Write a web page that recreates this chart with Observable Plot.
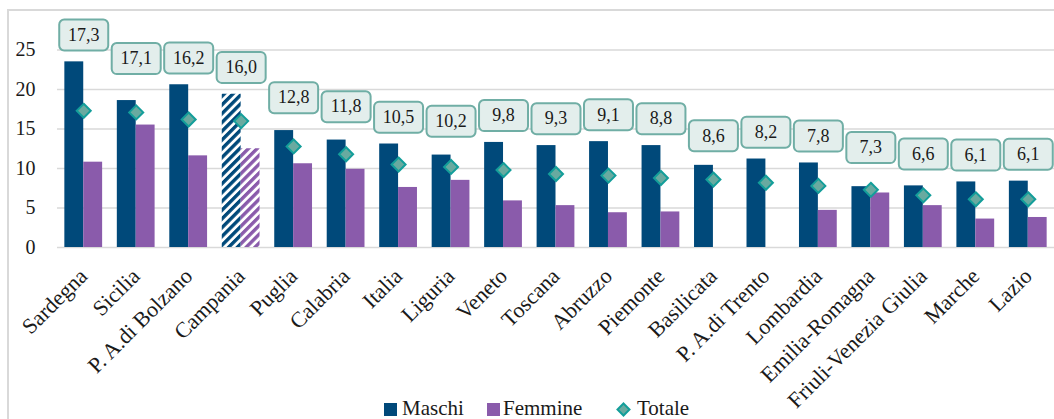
<!DOCTYPE html>
<html>
<head>
<meta charset="utf-8">
<script src="https://cdn.jsdelivr.net/npm/d3@7"></script>
<script src="https://cdn.jsdelivr.net/npm/@observablehq/plot@0.6"></script>
<style>
  html, body { margin: 0; padding: 0; background: #fff; overflow: hidden; }
  #wrap { position: relative; width: 1054px; height: 419px; overflow: hidden; font-family: "Liberation Serif", serif; }
  #frame { position: absolute; left: 7px; top: 9px; width: 1200px; height: 600px; border: 2px solid #d9d9d9; box-sizing: border-box; }
  #chart { position: absolute; left: 0; top: 0; }
  .lg { position: absolute; top: 397px; font-size: 21px; color: #1a1a1a; line-height: 22px; white-space: nowrap; }
  .sw { position: absolute; top: 403px; width: 13px; height: 13px; }
</style>
</head>
<body>
<div id="wrap">
  <div id="frame"></div>
  <div id="chart"></div>
</div>
<script>
const regions = ["Sardegna","Sicilia","P. A.di Bolzano","Campania","Puglia","Calabria","Italia","Liguria","Veneto","Toscana","Abruzzo","Piemonte","Basilicata","P. A.di Trento","Lombardia","Emilia-Romagna","Friuli-Venezia Giulia","Marche","Lazio"];
const maschi  = [23.5, 18.6, 20.6, 19.4, 14.8, 13.6, 13.1, 11.7, 13.3, 12.9, 13.4, 12.9, 10.4, 11.2, 10.7, 7.7, 7.8, 8.3, 8.4];
const femmine = [10.8, 15.5, 11.6, 12.5, 10.6, 9.9, 7.6, 8.5, 5.9, 5.3, 4.4, 4.5, null, null, 4.7, 6.9, 5.3, 3.6, 3.8];
const totale  = [17.3, 17.1, 16.2, 16.0, 12.8, 11.8, 10.5, 10.2, 9.8, 9.3, 9.1, 8.8, 8.6, 8.2, 7.8, 7.3, 6.6, 6.1, 6.1];
const yTicks = [0, 5, 10, 15, 20, 25];
const seriesNames = ["Maschi", "Femmine", "Totale"];
const hatchedRegion = "Campania";

const rows = regions.map((r, i) => ({region: r, maschi: maschi[i], femmine: femmine[i], totale: totale[i]}));

const C_M = "#00497a", C_F = "#8a5bab", C_TF = "#69aaa0", C_TS = "#139e9a";
const W = 1054, H = 395, ML = 57, MR = 0, MT = 10, MB = H - 247;
const PAD = 0.28;
const step = (W - ML - MR) / regions.length;
const half = step * (1 - PAD) / 2;

const fmt = v => d3.format(".1f")(v).replace(".", ",");
// data labels sit above the diamond, and clear of the tallest bar
const labelY = d => Math.max(d.maschi + 3.4, 1.15 * d.totale + 4.25);

const diamond = { draw(ctx) { const s = 7; ctx.moveTo(0, -s); ctx.lineTo(s, 0); ctx.lineTo(0, s); ctx.lineTo(-s, 0); ctx.closePath(); } };
const box = { draw(ctx) {
  const w = 24.5, h = 15.5, r = 5;
  ctx.moveTo(-w + r, -h); ctx.lineTo(w - r, -h); ctx.arcTo(w, -h, w, -h + r, r);
  ctx.lineTo(w, h - r); ctx.arcTo(w, h, w - r, h, r);
  ctx.lineTo(-w + r, h); ctx.arcTo(-w, h, -w, h - r, r);
  ctx.lineTo(-w, -h + r); ctx.arcTo(-w, -h, -w + r, -h, r); ctx.closePath();
} };

const normal = rows.filter(d => d.region !== hatchedRegion);
const hatched = rows.filter(d => d.region === hatchedRegion);

const svg = Plot.plot({
  width: W, height: H,
  marginLeft: ML, marginRight: MR, marginTop: MT, marginBottom: MB,
  style: {fontFamily: "Liberation Serif, serif", color: "#1a1a1a", background: "transparent", overflow: "visible"},
  x: {domain: regions, paddingInner: PAD, paddingOuter: PAD / 2, round: false, label: null},
  y: {domain: [0, 30], label: null},
  marks: [
    Plot.gridY(yTicks, {stroke: "#d9d9d9", strokeOpacity: 1, strokeWidth: 1.6}),
    Plot.barY(normal, {x: "region", y: "maschi", fill: C_M, insetRight: half}),
    Plot.barY(normal, {x: "region", y: "femmine", fill: C_F, insetLeft: half}),
    Plot.barY(hatched, {x: "region", y: "maschi", fill: "url(#hatchM)", insetRight: half}),
    Plot.barY(hatched, {x: "region", y: "femmine", fill: "url(#hatchF)", insetLeft: half}),
    Plot.dot(rows, {x: "region", y: "totale", symbol: diamond, r: 7, fill: C_TF, stroke: C_TS, strokeWidth: 2}),
    Plot.dot(rows, {x: "region", y: labelY, symbol: box, r: 10, fill: "#e3eeec", stroke: "#70aea5", strokeWidth: 2}),
    Plot.text(rows, {x: "region", y: labelY, text: d => fmt(d.totale), fontSize: 18, fill: "#1a1a1a"}),
    Plot.axisY({ticks: yTicks, tickSize: 0, tickPadding: 22, fontSize: 20, label: null}),
    Plot.axisX({tickRotate: -45, tickSize: 0, tickPadding: 25, fontSize: 22, label: null})
  ]
});

const defs = d3.select(svg).insert("defs", ":first-child");
[["hatchM", C_M], ["hatchF", C_F]].forEach(([id, c]) => {
  const p = defs.append("pattern").attr("id", id).attr("patternUnits", "userSpaceOnUse")
    .attr("width", 6.2).attr("height", 6.2).attr("patternTransform", "rotate(45)");
  p.append("rect").attr("width", 6.2).attr("height", 6.2).attr("fill", "#fff");
  p.append("rect").attr("width", 3.4).attr("height", 6.2).attr("fill", c);
});

document.getElementById("chart").appendChild(svg);

// legend
const wrap = document.getElementById("wrap");
const legendItems = [
  {name: seriesNames[0], kind: "sq", color: C_M, sx: 384, tx: 402},
  {name: seriesNames[1], kind: "sq", color: C_F, sx: 487, tx: 503},
  {name: seriesNames[2], kind: "dm", color: C_TF, sx: 617, tx: 637}
];
legendItems.forEach(it => {
  const sw = document.createElement("div");
  sw.className = "sw";
  sw.style.left = it.sx + "px";
  if (it.kind === "sq") {
    sw.style.background = it.color;
  } else {
    sw.innerHTML = '<svg width="15" height="15" style="position:absolute;left:-1px;top:-1px"><path d="M7.5,1.5L13.5,7.5L7.5,13.5L1.5,7.5Z" fill="' + C_TF + '" stroke="' + C_TS + '" stroke-width="2"/></svg>';
  }
  wrap.appendChild(sw);
  const t = document.createElement("div");
  t.className = "lg";
  t.style.left = it.tx + "px";
  t.textContent = it.name;
  wrap.appendChild(t);
});
</script>
</body>
</html>
